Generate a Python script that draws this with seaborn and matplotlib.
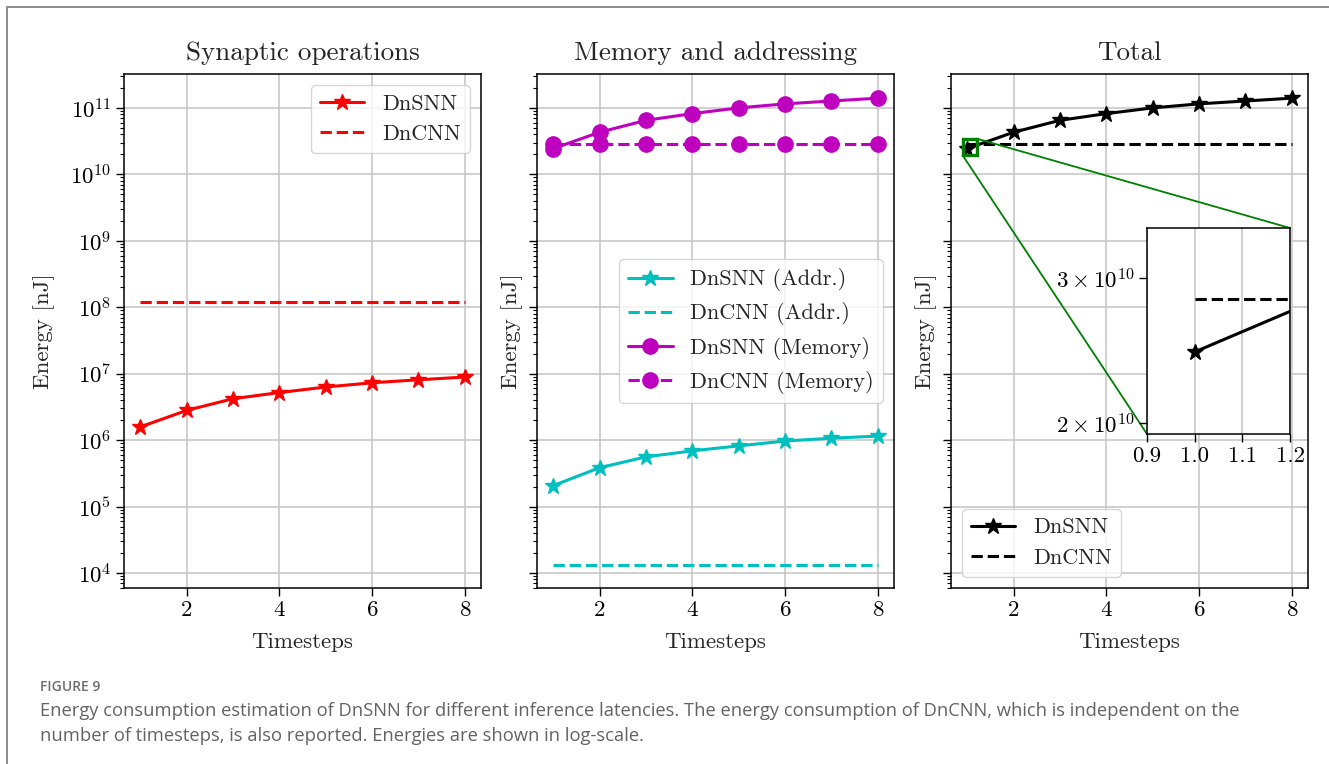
import numpy as np
import matplotlib
matplotlib.use("Agg")
import matplotlib.pyplot as plt
from matplotlib.lines import Line2D
from matplotlib.ticker import LogLocator, NullFormatter, FixedLocator, FixedFormatter, NullLocator
import seaborn as sns

# ---------------- data ----------------
timesteps = [1, 2, 3, 4, 5, 6, 7, 8]

syn_dnsnn = [1.58e6, 2.8e6, 4.2e6, 5.2e6, 6.3e6, 7.3e6, 8.1e6, 8.9e6]
syn_dncnn = [1.2e8] * 8

addr_dnsnn = [2.07e5, 3.85e5, 5.6e5, 6.9e5, 8.2e5, 9.7e5, 1.07e6, 1.15e6]
addr_dncnn = [1.32e4] * 8
mem_dnsnn = [2.44e10, 4.3e10, 6.5e10, 8.2e10, 1.0e11, 1.15e11, 1.27e11, 1.4e11]
mem_dncnn = [2.82e10] * 8

tot_dnsnn = [2.44e10, 4.3e10, 6.5e10, 8.2e10, 1.0e11, 1.15e11, 1.27e11, 1.4e11]
tot_dncnn = [2.83e10] * 8

titles = ["Synaptic operations", "Memory and addressing", "Total"]
xlabel = "Timesteps"
ylabel = "Energy [nJ]"
inset_xticks = [0.9, 1.0, 1.1, 1.2]
inset_xticklabels = ["0.9", "1.0", "1.1", "1.2"]
inset_yticks = [2e10, 3e10]
inset_yticklabels = [r"$2\times10^{10}$", r"$3\times10^{10}$"]

caption_head = "FIGURE 9"
caption_lines = [
    "Energy consumption estimation of DnSNN for different inference latencies. The energy consumption of DnCNN, which is independent on the",
    "number of timesteps, is also reported. Energies are shown in log-scale.",
]

# ---------------- style ----------------
sns.set_style("ticks")
plt.rcParams.update({
    "font.family": "serif",
    "font.serif": ["cmr10"],
    "mathtext.fontset": "cm",
    "axes.formatter.use_mathtext": True,
    "font.size": 16,
    "axes.linewidth": 1.1,
    "axes.edgecolor": "black",
    "xtick.color": "black",
    "ytick.color": "black",
    "xtick.major.size": 5.5,
    "ytick.major.size": 5.5,
    "ytick.minor.size": 3,
    "xtick.major.width": 1.0,
    "ytick.major.width": 1.0,
    "ytick.minor.width": 0.8,
    "grid.color": "#c4c4c4",
    "grid.linewidth": 1.1,
    "legend.fontsize": 16,
})

W, H = 1329, 764
fig = plt.figure(figsize=(W / 100, H / 100), dpi=100)

def fr(x0, x1, ytop, ybot):
    return [x0 / W, 1 - ybot / H, (x1 - x0) / W, (ybot - ytop) / H]

ax1 = fig.add_axes(fr(124, 481, 74, 588))
ax2 = fig.add_axes(fr(537, 894, 74, 588), sharey=ax1)
ax3 = fig.add_axes(fr(951, 1308, 74, 588), sharey=ax1)
axins = fig.add_axes(fr(1147, 1290, 228, 434))

LW = 2.2
STAR = 12
CIRC = 11

def draw(ax, y, color, marker=None, ls="-", label=None, ms=STAR):
    kws = dict(color=color, linewidth=LW, linestyle=ls, label=label)
    if marker:
        kws.update(marker=marker, markersize=ms, markeredgecolor=color,
                   markerfacecolor=color, markeredgewidth=1)
    sns.lineplot(x=timesteps, y=y, ax=ax, **kws)

# Panel 1
draw(ax1, syn_dnsnn, "red", "*", "-", "DnSNN")
draw(ax1, syn_dncnn, "red", None, "--", "DnCNN")
# Panel 2
draw(ax2, addr_dnsnn, "c", "*", "-", "DnSNN (Addr.)")
draw(ax2, addr_dncnn, "c", None, "--", "DnCNN (Addr.)")
draw(ax2, mem_dnsnn, "m", "o", "-", "DnSNN (Memory)", ms=CIRC)
draw(ax2, mem_dncnn, "m", "o", "--", "DnCNN (Memory)", ms=CIRC)
# Panel 3
draw(ax3, tot_dnsnn, "black", "*", "-", "DnSNN")
draw(ax3, tot_dncnn, "black", None, "--", "DnCNN")
# Inset
draw(axins, tot_dnsnn, "black", "*", "-", None)
draw(axins, tot_dncnn, "black", None, "--", None)

for ax, t in zip([ax1, ax2, ax3], titles):
    ax.set_yscale("log")
    ax.set_ylim(10 ** 3.775, 10 ** 11.51)
    ax.set_xlim(0.65, 8.35)
    ax.set_xticks([2, 4, 6, 8])
    ax.yaxis.set_major_locator(LogLocator(base=10, numticks=100))
    ax.yaxis.set_minor_locator(LogLocator(base=10, subs=np.arange(2, 10), numticks=100))
    ax.yaxis.set_minor_formatter(NullFormatter())
    ax.grid(True, which="major")
    ax.set_title(t, fontsize=19.5, pad=10)
    ax.set_xlabel(xlabel, fontsize=16.5, labelpad=9)
    ax.set_ylabel(ylabel, fontsize=16.5)
    ax.tick_params(labelsize=16.5)
    ax.set_axisbelow(True)

ax1.set_ylabel(ylabel, fontsize=16.5, labelpad=11)
plt.setp(ax2.get_yticklabels(), visible=False)
plt.setp(ax3.get_yticklabels(), visible=False)

leg_kw = dict(fancybox=True, framealpha=0.8, edgecolor="#cccccc", handlelength=2.0)
ax1.legend(loc="upper right", **leg_kw)
ax2.legend(loc="center right", **leg_kw)
ax3.legend(loc="lower left", **leg_kw)

# inset axes
axins.set_yscale("log")
axins.set_xlim(0.9, 1.2)
axins.set_ylim(1.94e10, 3.45e10)
axins.xaxis.set_major_locator(FixedLocator(inset_xticks))
axins.xaxis.set_major_formatter(FixedFormatter(inset_xticklabels))
axins.yaxis.set_major_locator(FixedLocator(inset_yticks))
axins.yaxis.set_major_formatter(FixedFormatter(inset_yticklabels))
axins.yaxis.set_minor_locator(NullLocator())
axins.grid(True, axis="x")
axins.set_xlabel("")
axins.set_ylabel("")
axins.tick_params(labelsize=16.5)
axins.set_facecolor("white")

ind = ax3.indicate_inset_zoom(axins, edgecolor="green", linewidth=2.4, alpha=1)
for c in ind.connectors:
    c.set_linewidth(1.3)

# figure frame lines
fig.add_artist(Line2D([7 / W, 1], [1 - 7 / H, 1 - 7 / H], transform=fig.transFigure,
                      color="#8c8c8c", lw=1.4))
fig.add_artist(Line2D([7 / W, 7 / W], [0, 1 - 7 / H], transform=fig.transFigure,
                      color="#8c8c8c", lw=1.4))

# caption
fig.text(40 / W, 1 - 691 / H, caption_head, family="Open Sans", fontsize=10,
         fontweight="semibold", color="#6e6e6e", va="baseline", ha="left")
for i, line in enumerate(caption_lines):
    fig.text(40 / W, 1 - (716 + 25 * i) / H, line, family="Open Sans", fontsize=13.25,
             color="#636363", va="baseline", ha="left")

fig.savefig("out.png", dpi=100)
